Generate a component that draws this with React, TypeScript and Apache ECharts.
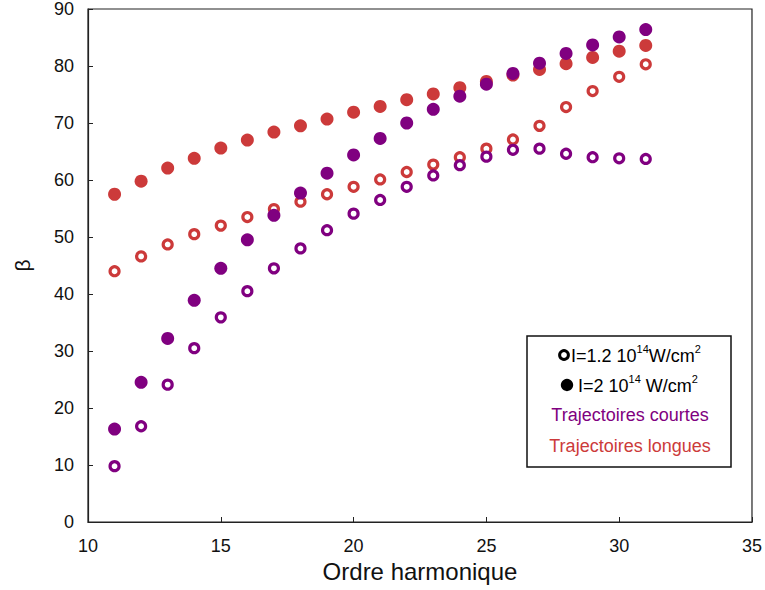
import React, { useEffect, useRef } from "react";
import * as echarts from "echarts";

const harmonics = [11, 12, 13, 14, 15, 16, 17, 18, 19, 20, 21, 22, 23, 24, 25, 26, 27, 28, 29, 30, 31];

// Short trajectories (purple)
const shortLowI = [9.8, 16.8, 24.1, 30.5, 35.9, 40.5, 44.5, 48.0, 51.2, 54.1, 56.5, 58.8, 60.8, 62.6, 64.1, 65.3, 65.5, 64.6, 64.0, 63.8, 63.7];
const shortHighI = [16.3, 24.5, 32.2, 38.9, 44.5, 49.5, 53.8, 57.7, 61.2, 64.4, 67.3, 70.0, 72.4, 74.7, 76.8, 78.7, 80.5, 82.2, 83.7, 85.1, 86.4];

// Long trajectories (red)
const longLowI = [44.0, 46.6, 48.7, 50.5, 52.0, 53.5, 54.9, 56.2, 57.5, 58.8, 60.1, 61.4, 62.7, 64.0, 65.5, 67.1, 69.5, 72.8, 75.6, 78.1, 80.3];
const longHighI = [57.5, 59.8, 62.1, 63.8, 65.6, 67.0, 68.4, 69.5, 70.7, 71.9, 72.9, 74.1, 75.1, 76.2, 77.3, 78.4, 79.4, 80.4, 81.5, 82.6, 83.6];

const legendLines = [
  "I=1.2 10|14|W/cm|2",
  "I=2 10|14| W/cm|2",
  "Trajectoires courtes",
  "Trajectoires longues",
];

const PURPLE = "#800080";
const RED = "#cc3a3a";
const FONT = "'Liberation Sans', Arial, sans-serif";

function pairs(ys: number[]) {
  return harmonics.map((h, i) => [h, ys[i]]);
}

function richSup(s: string) {
  const parts = s.split("|");
  return parts.map((p, i) => (i % 2 === 0 ? `{a|${p}}` : `{s|${p}}`)).join("");
}

export default function App() {
  const ref = useRef<HTMLDivElement>(null);
  useEffect(() => {
    if (!ref.current) return;
    const chart = echarts.init(ref.current, undefined, { renderer: "svg" });
    const openSeries = (name: string, data: number[][], color: string) => ({
      name,
      type: "scatter",
      data,
      symbol: "circle",
      symbolSize: 9,
      itemStyle: { color: "#ffffff", borderColor: color, borderWidth: 3.2, opacity: 1 },
    });
    const filledSeries = (name: string, data: number[][], color: string) => ({
      name,
      type: "scatter",
      data,
      symbol: "circle",
      symbolSize: 13,
      itemStyle: { color, opacity: 1 },
    });
    const rich = {
      a: { fontSize: 18, lineHeight: 22, fontFamily: FONT, color: "#111", verticalAlign: "bottom" },
      s: { fontSize: 11, lineHeight: 11, fontFamily: FONT, color: "#111", verticalAlign: "top" },
    };
    chart.setOption({
      animation: false,
      backgroundColor: "#ffffff",
      grid: { left: 88, top: 8, right: 12, bottom: 68, show: true, borderColor: "#222", borderWidth: 1.2 },
      xAxis: {
        type: "value",
        min: 10,
        max: 35,
        interval: 5,
        name: "Ordre harmonique",
        nameLocation: "middle",
        nameGap: 35,
        nameTextStyle: { fontSize: 24, fontFamily: FONT, color: "#111" },
        axisLine: { show: true, onZero: false, lineStyle: { color: "#222", width: 1.2 } },
        axisTick: { show: true, inside: true, length: 5, lineStyle: { color: "#222" } },
        axisLabel: { fontSize: 18, fontFamily: FONT, color: "#111", margin: 15 },
        splitLine: { show: false },
      },
      yAxis: {
        type: "value",
        min: 0,
        max: 90,
        interval: 10,
        name: "β",
        nameLocation: "middle",
        nameGap: 55,
        nameTextStyle: { fontSize: 21, fontFamily: FONT, color: "#111" },
        axisLine: { show: true, onZero: false, lineStyle: { color: "#222", width: 1.2 } },
        axisTick: { show: true, inside: true, length: 5, lineStyle: { color: "#222" } },
        axisLabel: { fontSize: 18, fontFamily: FONT, color: "#111", margin: 14 },
        splitLine: { show: false },
      },
      series: [
        openSeries("longLowI", pairs(longLowI), RED),
        filledSeries("longHighI", pairs(longHighI), RED),
        openSeries("shortLowI", pairs(shortLowI), PURPLE),
        filledSeries("shortHighI", pairs(shortHighI), PURPLE),
      ],
      graphic: [
        {
          type: "rect",
          shape: { x: 527, y: 336, width: 204, height: 131 },
          style: { fill: "#ffffff", stroke: "#111", lineWidth: 1.5 },
          z: 100,
        },
        {
          type: "circle",
          shape: { cx: 564, cy: 355, r: 4.4 },
          style: { fill: "#ffffff", stroke: "#000", lineWidth: 3 },
          z: 101,
        },
        {
          type: "text",
          x: 571,
          y: 354,
          style: { text: richSup(legendLines[0]), rich, verticalAlign: "middle", align: "left" },
          z: 101,
        },
        {
          type: "circle",
          shape: { cx: 567, cy: 385, r: 6.2 },
          style: { fill: "#000" },
          z: 101,
        },
        {
          type: "text",
          x: 578,
          y: 384,
          style: { text: richSup(legendLines[1]), rich, verticalAlign: "middle", align: "left" },
          z: 101,
        },
        {
          type: "text",
          x: 630,
          y: 415,
          style: { text: legendLines[2], fontSize: 18, fontFamily: FONT, fill: PURPLE, align: "center", verticalAlign: "middle" },
          z: 101,
        },
        {
          type: "text",
          x: 630,
          y: 446,
          style: { text: legendLines[3], fontSize: 18, fontFamily: FONT, fill: RED, align: "center", verticalAlign: "middle" },
          z: 101,
        },
      ],
    });
    return () => chart.dispose();
  }, []);
  return <div ref={ref} style={{ width: 765, height: 590, position: "absolute", left: 0, top: 0 }} />;
}
